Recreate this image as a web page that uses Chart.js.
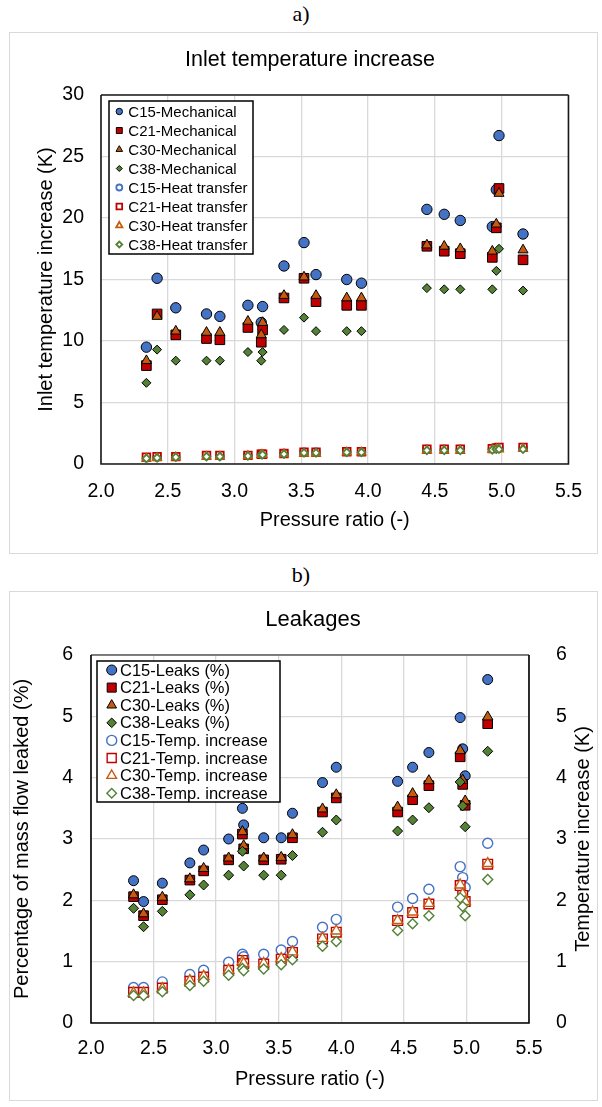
<!DOCTYPE html>
<html>
<head>
<meta charset="utf-8">
<script src="https://cdn.jsdelivr.net/npm/chart.js@4.4.1/dist/chart.umd.min.js"></script>
<style>
  body { margin: 0; background: #fff; width: 602px; height: 1107px; position: relative; overflow: hidden; }
  .tag { position: absolute; left: 0; width: 602px; text-align: center; font-family: "Liberation Serif", serif; font-size: 22px; line-height: 24px; color: #000; }
  .frame { position: absolute; left: 9px; width: 589px; border: 1px solid #d9d9d9; box-sizing: border-box; }
  .wrap { position: absolute; left: 9px; width: 589px; }
</style>
</head>
<body>
<div class="tag" style="top:2px">a)</div>
<div class="frame" style="top:32px;height:522px"></div>
<div class="wrap" style="top:32px;height:521px"><canvas id="chartA" width="589" height="521"></canvas></div>

<div class="tag" style="top:563px">b)</div>
<div class="frame" style="top:591px;height:510px"></div>
<div class="wrap" style="top:591px;height:509px"><canvas id="chartB" width="589" height="509"></canvas></div>

<script>
// Pressure ratios (x values)
const pressureA = [2.34, 2.42, 2.56, 2.79, 2.89, 3.10, 3.20, 3.21, 3.37, 3.52, 3.61, 3.84, 3.95, 4.44, 4.57, 4.69, 4.93, 4.96, 4.98, 5.16];
const pressureB = [2.34, 2.42, 2.57, 2.79, 2.90, 3.10, 3.21, 3.22, 3.38, 3.52, 3.61, 3.85, 3.96, 4.45, 4.57, 4.70, 4.95, 4.97, 4.99, 5.17];

// a) Inlet temperature increase (K)
const c15Mech = [9.5, 15.1, 12.7, 12.2, 12.0, 12.9, 11.5, 12.8, 16.1, 18.0, 15.4, 15.0, 14.7, 20.7, 20.3, 19.8, 19.3, 22.3, 26.7, 18.7];
const c21Mech = [8.0, 12.2, 10.5, 10.2, 10.1, 11.1, 9.9, 10.9, 13.5, 15.1, 13.2, 12.9, 12.9, 17.7, 17.3, 17.1, 16.8, 19.2, 22.4, 16.6];
const c30Mech = [8.4, 12.0, 10.8, 10.7, 10.7, 11.6, 10.5, 11.5, 13.7, 15.2, 13.7, 13.5, 13.5, 17.8, 17.7, 17.5, 17.3, 19.5, 22.0, 17.4];
const c38Mech = [6.6, 9.3, 8.4, 8.4, 8.4, 9.1, 8.4, 9.1, 10.9, 11.9, 10.8, 10.8, 10.8, 14.3, 14.2, 14.2, 14.2, 15.7, 17.5, 14.1];
const c15Heat = [0.5, 0.55, 0.6, 0.65, 0.65, 0.7, 0.8, 0.8, 0.85, 0.95, 0.95, 1.0, 1.0, 1.2, 1.2, 1.2, 1.25, 1.3, 1.3, 1.3];
const c21Heat = [0.55, 0.6, 0.6, 0.7, 0.7, 0.7, 0.8, 0.8, 0.85, 0.95, 0.95, 1.0, 1.0, 1.2, 1.2, 1.2, 1.25, 1.3, 1.35, 1.35];
const c30Heat = [0.45, 0.5, 0.55, 0.6, 0.6, 0.65, 0.75, 0.75, 0.8, 0.85, 0.85, 0.95, 0.95, 1.1, 1.1, 1.1, 1.15, 1.2, 1.2, 1.25];
const c38Heat = [0.45, 0.5, 0.55, 0.6, 0.6, 0.65, 0.75, 0.75, 0.8, 0.9, 0.9, 0.95, 0.95, 1.1, 1.1, 1.1, 1.15, 1.2, 1.2, 1.2];

// b) Leakages (%) and temperature increase (K)
const c15Leak = [2.32, 1.98, 2.28, 2.61, 2.82, 3.00, 3.50, 3.23, 3.02, 3.02, 3.42, 3.92, 4.17, 3.94, 4.17, 4.41, 4.98, 4.47, 4.03, 5.60];
const c21Leak = [2.06, 1.75, 2.01, 2.33, 2.48, 2.66, 3.08, 2.84, 2.66, 2.67, 3.02, 3.44, 3.67, 3.44, 3.64, 3.87, 4.34, 3.89, 3.55, 4.88];
const c30Leak = [2.09, 1.78, 2.05, 2.35, 2.52, 2.69, 3.12, 2.89, 2.69, 2.70, 3.07, 3.49, 3.72, 3.52, 3.74, 3.95, 4.44, 3.96, 3.62, 4.99];
const c38Leak = [1.87, 1.57, 1.82, 2.09, 2.25, 2.41, 2.80, 2.56, 2.41, 2.41, 2.73, 3.11, 3.31, 3.13, 3.31, 3.51, 3.93, 3.54, 3.20, 4.43];
const c15Temp = [0.58, 0.58, 0.67, 0.79, 0.86, 0.99, 1.12, 1.08, 1.12, 1.19, 1.33, 1.56, 1.69, 1.89, 2.03, 2.18, 2.55, 2.37, 2.21, 2.93];
const c21Temp = [0.50, 0.50, 0.57, 0.68, 0.75, 0.86, 1.02, 0.97, 0.96, 1.04, 1.15, 1.37, 1.48, 1.67, 1.80, 1.94, 2.24, 2.08, 1.98, 2.59];
const c30Temp = [0.49, 0.49, 0.56, 0.69, 0.76, 0.86, 1.00, 0.97, 0.97, 1.05, 1.16, 1.38, 1.50, 1.67, 1.81, 1.95, 2.25, 2.10, 1.98, 2.60];
const c38Temp = [0.45, 0.45, 0.51, 0.61, 0.68, 0.78, 0.89, 0.85, 0.88, 0.95, 1.03, 1.25, 1.33, 1.51, 1.62, 1.75, 2.04, 1.90, 1.75, 2.34];

const xTicks = [2.0, 2.5, 3.0, 3.5, 4.0, 4.5, 5.0, 5.5];

const blue = "#4472c4", red = "#c00000", orange = "#c55a11", green = "#548235";
const font = "'Liberation Sans', Arial, sans-serif";

function pts(xs, ys) {
  return xs.map((x, i) => ({ x: x, y: ys[i] }));
}

// filled marker with black outline, or open marker with coloured outline
function series(label, xs, ys, color, style, r, open, lw, legR, axis) {
  return {
    label: label,
    data: pts(xs, ys),
    showLine: false,
    pointStyle: style,
    pointRadius: r,
    pointBackgroundColor: open ? "#fff" : color,
    pointBorderColor: open ? color : "#000",
    pointBorderWidth: lw,
    backgroundColor: open ? "#fff" : color,
    borderColor: open ? color : "#000",
    legendRadius: legR,
    legendBorder: lw,
    yAxisID: axis || "y"
  };
}

// legend box drawn inside the plot area
const boxLegend = {
  id: "boxLegend",
  afterDraw(chart, args, o) {
    const ctx = chart.ctx, area = chart.chartArea;
    const x0 = area.left + o.dx, y0 = area.top + o.dy;
    ctx.save();
    ctx.fillStyle = "#fff";
    ctx.fillRect(x0, y0, o.w, o.h);
    ctx.lineWidth = 1.5;
    ctx.strokeStyle = "#000";
    ctx.strokeRect(x0, y0, o.w, o.h);
    ctx.font = o.size + "px " + font;
    ctx.textBaseline = "middle";
    ctx.textAlign = "left";
    chart.data.datasets.forEach((ds, i) => {
      const cy = y0 + o.first + i * o.row;
      ctx.fillStyle = ds.backgroundColor;
      ctx.strokeStyle = ds.borderColor;
      ctx.lineWidth = ds.legendBorder;
      Chart.helpers.drawPoint(ctx, { pointStyle: ds.pointStyle, radius: ds.legendRadius, borderWidth: ds.legendBorder, rotation: 0 }, x0 + o.mx, cy);
      ctx.fillStyle = "#000";
      ctx.fillText(ds.label, x0 + o.tx, cy + 1);
    });
    ctx.restore();
  }
};

// plot frame
const plotFrame = {
  id: "plotFrame",
  beforeDatasetsDraw(chart, args, o) {
    const ctx = chart.ctx, a = chart.chartArea;
    ctx.save();
    ctx.lineWidth = 1.6;
    ctx.strokeStyle = o.top;
    ctx.beginPath();
    ctx.moveTo(a.left, a.top);
    ctx.lineTo(a.right, a.top);
    ctx.stroke();
    ctx.strokeStyle = o.side;
    ctx.beginPath();
    ctx.moveTo(a.right, a.top);
    ctx.lineTo(a.right, a.bottom);
    ctx.lineTo(a.left, a.bottom);
    ctx.lineTo(a.left, a.top);
    ctx.stroke();
    ctx.restore();
  }
};

// chart heading and a right-hand axis title that reads bottom to top
const labels = {
  id: "labels",
  afterDraw(chart, args, o) {
    const ctx = chart.ctx, a = chart.chartArea;
    ctx.save();
    ctx.fillStyle = "#000";
    ctx.textAlign = "center";
    ctx.textBaseline = "middle";
    o.items.forEach((t) => {
      ctx.font = t.size + "px " + font;
      const y = t.y === "mid" ? (a.top + a.bottom) / 2 : t.y;
      ctx.save();
      ctx.translate(t.x, y);
      if (t.rot) ctx.rotate(-Math.PI / 2);
      ctx.fillText(t.text, 0, 0);
      ctx.restore();
    });
    ctx.restore();
  }
};

const grid = { color: "#d9d9d9", lineWidth: 1.3, drawTicks: false };

function xScale(pad, titlePad, height) {
  return {
    type: "linear", min: xTicks[0], max: xTicks[xTicks.length - 1],
    afterBuildTicks: (s) => { s.ticks = xTicks.map(v => ({ value: v })); },
    ticks: { padding: pad, color: "#000", font: { family: font, size: 19.5 }, callback: v => Number(v).toFixed(1) },
    grid: grid,
    border: { display: false },
    title: { display: true, text: "Pressure ratio (-)", color: "#000", font: { family: font, size: 20 }, padding: { top: 0, bottom: titlePad } },
    afterFit: (s) => { s.height = height; }
  };
}

function yScale(max, step, pos, title, pad, titlePad, width, showGrid) {
  return {
    type: "linear", position: pos, min: 0, max: max,
    ticks: { stepSize: step, padding: pad, color: "#000", font: { family: font, size: 19.5 } },
    grid: showGrid ? grid : { display: false },
    border: { display: false },
    title: { display: !!title, text: title, color: "#000", font: { family: font, size: 20 }, padding: { top: titlePad, bottom: 0 } },
    afterFit: (s) => { s.width = width; }
  };
}

function ordered(list) {
  list.forEach((d, i) => { d.order = 20 - i; });
  return list;
}

new Chart(document.getElementById("chartA"), {
  type: "scatter",
  data: {
    datasets: ordered([
      series("C15-Mechanical", pressureA, c15Mech, blue, "circle", 5.2, false, 1, 3.2),
      series("C21-Mechanical", pressureA, c21Mech, red, "rect", 6.8, false, 1, 4.2),
      series("C30-Mechanical", pressureA, c30Mech, orange, "triangle", 5.8, false, 1, 3.8),
      series("C38-Mechanical", pressureA, c38Mech, green, "rectRot", 4.5, false, 1, 3.0),
      series("C15-Heat transfer", pressureA, c15Heat, blue, "circle", 3.8, true, 1.8, 3.0),
      series("C21-Heat transfer", pressureA, c21Heat, red, "rect", 5.4, true, 1.8, 4.0),
      series("C30-Heat transfer", pressureA, c30Heat, orange, "triangle", 4.6, true, 1.8, 3.6),
      series("C38-Heat transfer", pressureA, c38Heat, green, "rectRot", 3.8, true, 1.8, 3.0)
    ])
  },
  options: {
    responsive: false,
    animation: false,
    events: [],
    layout: { padding: { left: 0, right: 20, top: 63, bottom: 0 } },
    scales: {
      x: xScale(16, 21, 89),
      y: yScale(30, 5, "left", "Inlet temperature increase (K)", 17, 25, 92, true)
    },
    plugins: {
      legend: { display: false },
      tooltip: { enabled: false },
      title: { display: false },
      plotFrame: { top: "#1a1a1a", side: "#1a1a1a" },
      boxLegend: { dx: 8, dy: 6, w: 144, h: 153, first: 10.5, row: 19, mx: 10.3, tx: 19.3, size: 15 },
      labels: { items: [{ text: "Inlet temperature increase", x: 301, y: 28, size: 21.5 }] }
    }
  },
  plugins: [plotFrame, boxLegend, labels]
});

new Chart(document.getElementById("chartB"), {
  type: "scatter",
  data: {
    datasets: ordered([
      series("C15-Leaks (%)", pressureB, c15Leak, blue, "circle", 5, false, 1, 5),
      series("C21-Leaks (%)", pressureB, c21Leak, red, "rect", 6.8, false, 1, 6.4),
      series("C30-Leaks (%)", pressureB, c30Leak, orange, "triangle", 6, false, 1, 5.6),
      series("C38-Leaks (%)", pressureB, c38Leak, green, "rectRot", 5, false, 1, 4.8),
      series("C15-Temp. increase", pressureB, c15Temp, blue, "circle", 5, true, 1.4, 5, "y2"),
      series("C21-Temp. increase", pressureB, c21Temp, red, "rect", 6.8, true, 1.4, 6.4, "y2"),
      series("C30-Temp. increase", pressureB, c30Temp, orange, "triangle", 6, true, 1.4, 5.6, "y2"),
      series("C38-Temp. increase", pressureB, c38Temp, green, "rectRot", 5, true, 1.4, 4.8, "y2")
    ])
  },
  options: {
    responsive: false,
    animation: false,
    events: [],
    layout: { padding: { left: 0, right: 0, top: 64, bottom: 0 } },
    scales: {
      x: xScale(14.3, 9, 77),
      y: yScale(6, 1, "left", "Percentage of mass flow leaked (%)", 18, 1, 82, true),
      y2: yScale(6, 1, "right", "", 19, 0, 69, false)
    },
    plugins: {
      legend: { display: false },
      tooltip: { enabled: false },
      title: { display: false },
      plotFrame: { top: "#595959", side: "#000" },
      boxLegend: { dx: 6, dy: 6, w: 183, h: 141, first: 9, row: 17.6, mx: 14.7, tx: 23, size: 16.5 },
      labels: { items: [
        { text: "Leakages", x: 304, y: 29, size: 22 },
        { text: "Temperature increase (K)", x: 574, y: "mid", size: 20, rot: true }
      ] }
    }
  },
  plugins: [plotFrame, boxLegend, labels]
});
</script>
</body>
</html>
